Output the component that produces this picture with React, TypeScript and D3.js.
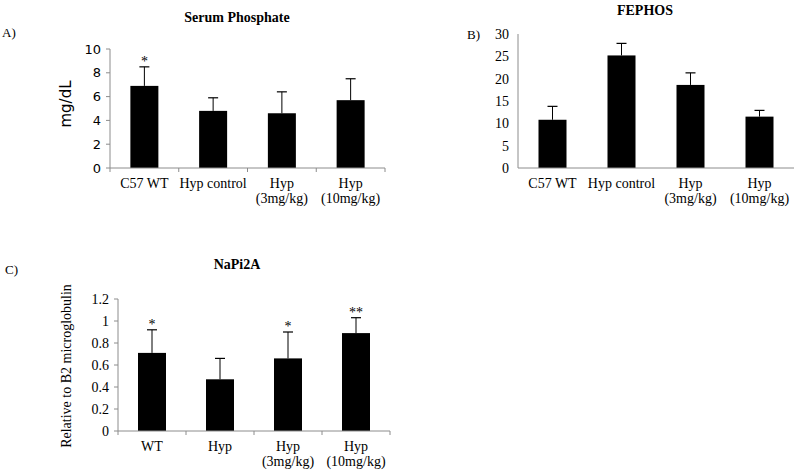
import React from "react";
import * as d3 from "d3";

// Panel A: Serum Phosphate
const catsA = [["C57 WT"], ["Hyp control"], ["Hyp", "(3mg/kg)"], ["Hyp", "(10mg/kg)"]];
const valsA = [6.9, 4.8, 4.6, 5.7];
const errA = [1.6, 1.1, 1.8, 1.8];
const starsA = ["*", "", "", ""];
const ticksA = [0, 2, 4, 6, 8, 10];

// Panel B: FEPHOS
const catsB = [["C57 WT"], ["Hyp control"], ["Hyp", "(3mg/kg)"], ["Hyp", "(10mg/kg)"]];
const valsB = [10.8, 25.2, 18.6, 11.5];
const errB = [3.0, 2.7, 2.7, 1.4];
const starsB = ["", "", "", ""];
const ticksB = [0, 5, 10, 15, 20, 25, 30];

// Panel C: NaPi2A
const catsC = [["WT"], ["Hyp"], ["Hyp", "(3mg/kg)"], ["Hyp", "(10mg/kg)"]];
const valsC = [0.71, 0.47, 0.66, 0.89];
const errC = [0.21, 0.19, 0.24, 0.14];
const starsC = ["*", "", "*", "**"];
const ticksC = [0, 0.2, 0.4, 0.6, 0.8, 1, 1.2];

const SERIF = "'Liberation Serif', 'DejaVu Serif', serif";
const SANS = "'DejaVu Sans', Verdana, sans-serif";
const AXIS = "#8c8c8c";

type PanelProps = {
  cats: string[][];
  vals: number[];
  errs: number[];
  stars: string[];
  ticks: number[];
  yMax: number;
  x0: number;
  x1: number;
  y0: number;
  y1: number;
  tickFont: string;
  tickSize: number;
  xTicks: boolean;
  yTicks: boolean;
  labelY: number;
};

function Panel(p: PanelProps) {
  const xb = d3.scaleBand<number>().domain(d3.range(p.cats.length)).range([p.x0, p.x1]);
  const y = d3.scaleLinear().domain([0, p.yMax]).range([p.y0, p.y1]);
  return (
    <g>
      {p.vals.map((v, i) => {
        const cx = xb(i)! + xb.bandwidth() / 2;
        const bw = 28;
        const top = y(v + p.errs[i]);
        return (
          <g key={i}>
            <rect x={cx - bw / 2} y={y(v)} width={bw} height={y(0) - y(v)} fill="#000" />
            <line x1={cx} x2={cx} y1={y(v)} y2={top} stroke="#000" strokeWidth={1} />
            <line x1={cx - 5} x2={cx + 5} y1={top} y2={top} stroke="#000" strokeWidth={1.2} />
            {p.stars[i] && (
              <text x={cx} y={top - 1} textAnchor="middle" fontFamily={SERIF} fontSize={14} fill="#000">{p.stars[i]}</text>
            )}
          </g>
        );
      })}
      <line x1={p.x0} x2={p.x0} y1={y(0)} y2={y(p.yMax)} stroke={AXIS} strokeWidth={1} />
      <line x1={p.x0} x2={p.x1} y1={y(0)} y2={y(0)} stroke={AXIS} strokeWidth={1} />
      {p.ticks.map((t) => (
        <g key={t}>
          {p.yTicks && <line x1={p.x0 - 4} x2={p.x0} y1={y(t)} y2={y(t)} stroke={AXIS} />}
          <text x={p.x0 - 9} y={y(t)} dy="0.35em" textAnchor="end" fontFamily={p.tickFont} fontSize={p.tickSize} fill="#000">{String(t)}</text>
        </g>
      ))}
      {p.xTicks && d3.range(p.cats.length + 1).map((i) => {
        const xx = p.x0 + i * xb.bandwidth();
        return <line key={i} x1={xx} x2={xx} y1={y(0)} y2={y(0) + 4} stroke={AXIS} />;
      })}
      {p.cats.map((c, i) => {
        const cx = xb(i)! + xb.bandwidth() / 2;
        return (
          <text key={i} x={cx} y={p.labelY} textAnchor="middle" fontFamily={SERIF} fontSize={14} fill="#000">
            {c.map((l, j) => (
              <tspan key={j} x={cx} dy={j === 0 ? 0 : 15}>{l}</tspan>
            ))}
          </text>
        );
      })}
    </g>
  );
}

export default function App() {
  return (
    <svg width={800} height={475} style={{ position: "absolute", left: 0, top: 0, background: "#fff" }}>
      <rect width={800} height={475} fill="#fff" />
      {/* Panel A */}
      <text x={237} y={22} textAnchor="middle" fontFamily={SERIF} fontWeight="bold" fontSize={14}>Serum Phosphate</text>
      <text x={2} y={37} fontFamily={SERIF} fontSize={13}>A)</text>
      <text transform="translate(71,104) rotate(-90)" textAnchor="middle" fontFamily={SANS} fontSize={15}>mg/dL</text>
      <Panel cats={catsA} vals={valsA} errs={errA} stars={starsA} ticks={ticksA} yMax={10}
        x0={110} x1={385} y0={168} y1={49} tickFont={SANS} tickSize={13} xTicks={true} yTicks={true} labelY={188} />
      {/* Panel B */}
      <text x={645} y={15} textAnchor="middle" fontFamily={SERIF} fontWeight="bold" fontSize={14}>FEPHOS</text>
      <text x={467} y={39} fontFamily={SERIF} fontSize={13}>B)</text>
      <Panel cats={catsB} vals={valsB} errs={errB} stars={starsB} ticks={ticksB} yMax={30}
        x0={518} x1={794} y0={168} y1={34} tickFont={SERIF} tickSize={14} xTicks={false} yTicks={false} labelY={188} />
      {/* Panel C */}
      <text x={237} y={269} textAnchor="middle" fontFamily={SERIF} fontWeight="bold" fontSize={14}>NaPi2A</text>
      <text x={5} y={274} fontFamily={SERIF} fontSize={13}>C)</text>
      <text transform="translate(71,366) rotate(-90)" textAnchor="middle" fontFamily={SERIF} fontSize={14}>Relative to B2 microglobulin</text>
      <Panel cats={catsC} vals={valsC} errs={errC} stars={starsC} ticks={ticksC} yMax={1.2}
        x0={118} x1={390} y0={431} y1={299} tickFont={SERIF} tickSize={14} xTicks={true} yTicks={true} labelY={451} />
    </svg>
  );
}
